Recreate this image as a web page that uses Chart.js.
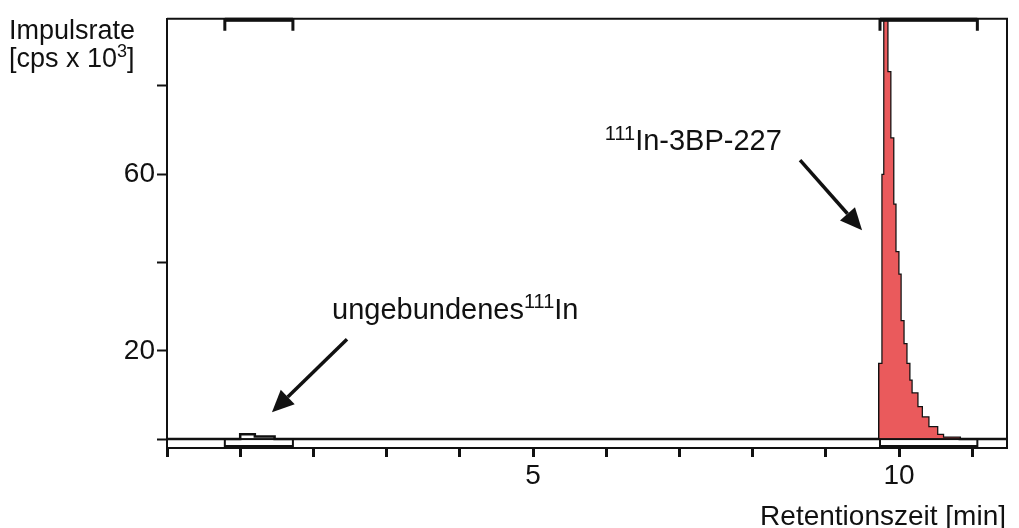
<!DOCTYPE html>
<html>
<head>
<meta charset="utf-8">
<script src="https://cdn.jsdelivr.net/npm/chart.js@4/dist/chart.umd.min.js"></script>
<style>
  body { margin: 0; background: #fff; }
  canvas { display: block; }
</style>
</head>
<body>
<canvas id="chart" width="1019" height="528"></canvas>
<script>
// radio-HPLC trace (step data: each value holds until the next time)
const retentionTime = [0, 1.00, 1.20, 1.47, 9.73, 9.775, 9.80, 9.84, 9.88, 9.92, 9.95, 9.99, 10.02, 10.06, 10.10, 10.14, 10.17, 10.25, 10.31, 10.40, 10.52, 10.60, 10.83, 11.475];
const countRate     = [0, 1.1,  0.6,  0,    17.0, 59.8,  97,   83.1, 68.1, 53.1, 42.3, 37.2, 26.7,  21.5,  17.0,  13.2,  10.3,  7.2,   4.9,   2.7,   0.9,   0.3,   0,     0];

// integration regions [min]
const regionStart = [0.79, 9.74];
const regionEnd   = [1.72, 11.07];

// ticks
const xTicks = [0, 1, 2, 3, 4, 5, 6, 7, 8, 9, 10, 11];
const xLabeled = [5, 10];
const yTicks = [0, 20, 40, 60, 80];
const yLabeled = [20, 60];

// red peak (main product)
const peakFrom = 9.7, peakTo = 10.9;

const FONT = '"Liberation Sans", Arial, sans-serif';
const INK = '#111';

const tracePoints = retentionTime.map((t, i) => ({ x: t, y: countRate[i] }));
const peakPoints = tracePoints.filter(p => p.x >= peakFrom && p.x <= peakTo);

function drawArrow(ctx, x0, y0, x1, y1) {
    const ang = Math.atan2(y1 - y0, x1 - x0);
    const len = 22, half = 10;
    const bx = x1 - len * Math.cos(ang), by = y1 - len * Math.sin(ang);
    ctx.lineWidth = 3.5;
    ctx.beginPath();
    ctx.moveTo(x0, y0);
    ctx.lineTo(bx, by);
    ctx.stroke();
    ctx.beginPath();
    ctx.moveTo(x1, y1);
    ctx.lineTo(bx + half * Math.sin(ang), by - half * Math.cos(ang));
    ctx.lineTo(bx - half * Math.sin(ang), by + half * Math.cos(ang));
    ctx.closePath();
    ctx.fill();
}

// text with superscript pieces
function drawRich(ctx, parts, x, y, size) {
    parts.forEach(p => {
        const s = p.sup ? Math.round(size * 0.68) : size;
        ctx.font = s + 'px ' + FONT;
        ctx.fillText(p.t, x, p.sup ? y - size * 0.36 : y);
        x += ctx.measureText(p.t).width;
    });
}

const decorations = {
    id: 'decorations',
    afterDraw(chart) {
        const { ctx, chartArea: a, scales: { x, y } } = chart;
        ctx.save();
        ctx.strokeStyle = INK;
        ctx.fillStyle = INK;

        // top and right frame
        ctx.lineWidth = 2;
        ctx.beginPath();
        ctx.moveTo(a.left, a.top);
        ctx.lineTo(a.right, a.top);
        ctx.lineTo(a.right, a.bottom + 1);
        ctx.stroke();

        // integration regions: bracket on top, box under baseline
        const base = y.getPixelForValue(0);
        regionStart.forEach((s, i) => {
            const x0 = x.getPixelForValue(s);
            const x1 = x.getPixelForValue(regionEnd[i]);
            ctx.lineWidth = 2;
            ctx.strokeRect(x0, base, x1 - x0, a.bottom - base);
            ctx.lineWidth = 4;
            ctx.beginPath();
            ctx.moveTo(x0, a.bottom - 1);
            ctx.lineTo(x1, a.bottom - 1);
            ctx.stroke();
            ctx.lineWidth = 3;
            ctx.beginPath();
            ctx.moveTo(x0, a.top + 12);
            ctx.lineTo(x0, a.top + 1);
            ctx.lineTo(x1, a.top + 1);
            ctx.lineTo(x1, a.top + 12);
            ctx.stroke();
            ctx.lineWidth = 4;
            ctx.beginPath();
            ctx.moveTo(x0, a.top + 1);
            ctx.lineTo(x1, a.top + 1);
            ctx.stroke();
        });

        // peak annotations
        ctx.textBaseline = 'alphabetic';
        ctx.textAlign = 'left';
        drawRich(ctx, [{ t: '111', sup: true }, { t: 'In-3BP-227' }],
            x.getPixelForValue(5.98), y.getPixelForValue(65.4), 29);
        drawArrow(ctx, x.getPixelForValue(8.648), y.getPixelForValue(63.2),
            x.getPixelForValue(9.495), y.getPixelForValue(47.3));

        drawRich(ctx, [{ t: 'ungebundenes' }, { t: '111', sup: true }, { t: 'In' }],
            x.getPixelForValue(2.254), y.getPixelForValue(27.3), 29);
        drawArrow(ctx, x.getPixelForValue(2.459), y.getPixelForValue(22.6),
            x.getPixelForValue(1.434), y.getPixelForValue(6.05));

        // axis titles
        drawRich(ctx, [{ t: 'Impulsrate' }], 9, 39, 27);
        drawRich(ctx, [{ t: '[cps x 10' }, { t: '3', sup: true }, { t: ']' }], 9, 67, 27);
        ctx.font = '28px ' + FONT;
        ctx.textAlign = 'right';
        ctx.fillText('Retentionszeit [min]', 1006, 525);

        ctx.restore();
    }
};

new Chart(document.getElementById('chart'), {
    type: 'line',
    data: {
        datasets: [
            {
                data: peakPoints,
                stepped: true,
                fill: 'origin',
                backgroundColor: '#ea5a5c',
                borderWidth: 0,
                pointRadius: 0
            },
            {
                data: tracePoints,
                stepped: true,
                fill: false,
                borderColor: INK,
                borderWidth: 2.5,
                pointRadius: 0
            }
        ]
    },
    options: {
        responsive: false,
        animation: false,
        events: [],
        layout: { padding: { top: 14, right: 12, left: 0, bottom: 0 } },
        plugins: {
            legend: { display: false },
            tooltip: { enabled: false }
        },
        scales: {
            x: {
                type: 'linear',
                min: 0,
                max: 11.475,
                afterFit: s => { s.height = 80; },
                afterBuildTicks: s => { s.ticks = xTicks.map(v => ({ value: v })); },
                grid: { drawOnChartArea: false, tickLength: 9, tickWidth: 3, tickColor: INK },
                border: { display: true, color: INK, width: 2 },
                ticks: {
                    autoSkip: false,
                    maxRotation: 0,
                    padding: 2,
                    color: INK,
                    font: { family: FONT, size: 28 },
                    callback: v => xLabeled.includes(v) ? String(v) : ''
                }
            },
            y: {
                type: 'linear',
                min: -2.02,
                max: 95.2,
                afterFit: s => { s.width = 167; },
                afterBuildTicks: s => { s.ticks = yTicks.map(v => ({ value: v })); },
                grid: { drawOnChartArea: false, tickLength: 10, tickWidth: 2, tickColor: INK },
                border: { display: true, color: INK, width: 2 },
                ticks: {
                    autoSkip: false,
                    padding: 2,
                    color: INK,
                    font: { family: FONT, size: 28 },
                    callback: v => yLabeled.includes(v) ? String(v) : ''
                }
            }
        }
    },
    plugins: [decorations]
});
</script>
</body>
</html>
